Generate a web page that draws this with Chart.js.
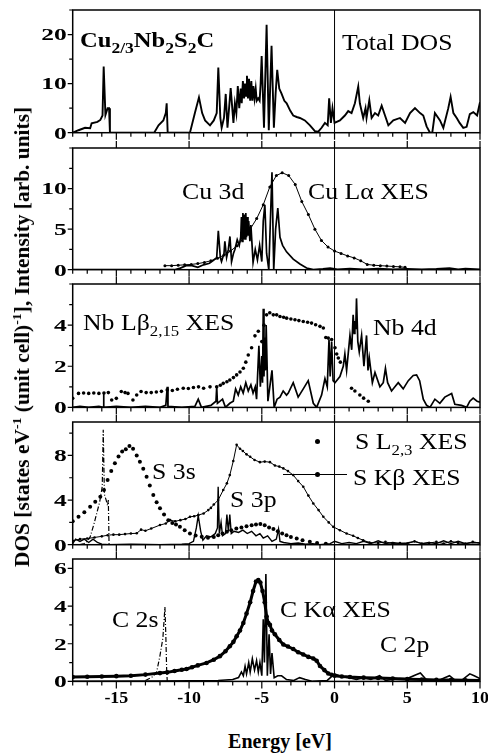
<!DOCTYPE html>
<html><head><meta charset="utf-8">
<script src="https://cdn.jsdelivr.net/npm/chart.js@4.4.0/dist/chart.umd.min.js"></script>
<style>
body{margin:0;background:#fff;width:488px;height:753px;overflow:hidden;position:relative;font-family:"Liberation Serif","Times New Roman",serif;}
canvas{position:absolute;left:0;}
.lab{position:absolute;white-space:nowrap;color:#000;font-size:23px;line-height:1;transform-origin:0 50%;transform:scaleX(1.12);}
.lab sub{font-size:15px;vertical-align:-6px;line-height:0;}
.b{font-weight:bold;}
.ylab{position:absolute;white-space:nowrap;font-weight:bold;font-size:20px;line-height:1;transform:translate(-50%,-50%) rotate(-90deg) scaleX(1.07);}
.ylab sup{font-size:13px;vertical-align:8px;line-height:0;}
.xlab{position:absolute;white-space:nowrap;font-weight:bold;font-size:20px;line-height:1;transform:translateX(-50%);}
.dot{position:absolute;width:5px;height:5px;border-radius:50%;background:#000;}
.hl{position:absolute;height:1.3px;background:#000;}
</style></head><body>
<canvas id="c1"></canvas><canvas id="c2"></canvas><canvas id="c3"></canvas><canvas id="c4"></canvas><canvas id="c5"></canvas>

<div class="lab b" style="left:80px;top:30px;font-size:21px;transform:scaleX(1.17)">Cu<sub>2/3</sub>Nb<sub>2</sub>S<sub>2</sub>C</div>
<div class="lab" style="left:342px;top:31px">Total DOS</div>
<div class="lab" style="left:182px;top:180px">Cu 3d</div>
<div class="lab" style="left:308px;top:180px">Cu Lα XES</div>
<div class="lab" style="left:83px;top:311px">Nb Lβ<sub>2,15</sub> XES</div>
<div class="lab" style="left:373px;top:316px">Nb 4d</div>
<div class="lab" style="left:355px;top:430px">S L<sub>2,3</sub> XES</div>
<div class="lab" style="left:353px;top:466px">S Kβ XES</div>
<div class="lab" style="left:152px;top:460px">S 3s</div>
<div class="lab" style="left:230px;top:488px">S 3p</div>
<div class="lab" style="left:112px;top:608px">C 2s</div>
<div class="lab" style="left:280px;top:598px">C Kα XES</div>
<div class="lab" style="left:380px;top:633px">C 2p</div>
<div class="dot" style="left:314.5px;top:438.5px"></div>
<div class="hl" style="left:283px;top:474px;width:64px"></div>
<div class="dot" style="left:314.5px;top:472px"></div>
<div class="ylab" style="left:22px;top:337px">DOS [states eV<sup>-1</sup> (unit cell)<sup>-1</sup>], Intensity [arb. units]</div>
<div class="xlab" style="left:280px;top:731px">Energy [eV]</div>

<script>
// ---------- axis settings ----------
const energyMin = -18, energyMax = 10;
const energyTicks = [-15, -10, -5, 0, 5, 10];

const p1Max = 25, p1Ticks = [0, 10, 20], p1Minor = 5;
const p2Max = 15, p2Ticks = [0, 5, 10], p2Minor = 2.5;
const p3Max = 6, p3Ticks = [0, 2, 4], p3Minor = 1;
const p4Max = 11, p4Ticks = [0, 4, 8], p4Minor = 2;
const p5Max = 6.5, p5Ticks = [0, 2, 4, 6], p5Minor = 1;

// ---------- data [energy eV, value] ----------
const totalDos = [[-18,0],[-17.6,0.5],[-17.15,1.0],[-16.8,0.9],[-16.7,1.9],[-16.3,2.2],[-16.1,2.6],[-15.95,3.5],[-15.87,13.5],[-15.75,3.6],[-15.6,5.0],[-15.5,5.0],[-15.44,0],
[-12.4,0],[-12.1,1.5],[-11.77,2.5],[-11.6,4],[-11.54,6.0],[-11.47,0],
[-9.94,0],[-9.6,4],[-9.32,7.2],[-9.1,4],[-8.9,2.5],[-8.56,1.5],[-8.3,2.5],[-8.1,4],[-7.99,13.3],[-7.85,3],[-7.76,1],[-7.6,3],[-7.48,7.9],[-7.36,1],[-7.25,5],[-7.14,9.1],[-6.95,2],[-6.85,6],[-6.75,4],[-6.65,9.5],[-6.55,5],[-6.45,9],[-6.38,6],[-6.3,10.5],[-6.22,7],[-6.15,10],[-6.08,7.5],[-6.02,11.6],[-5.95,7],[-5.88,11],[-5.8,6.5],[-5.72,10.5],[-5.65,6.5],[-5.58,9.5],[-5.5,7],[-5.42,9],[-5.35,6.5],[-5.25,7],[-5.15,6.5],[-5.08,10],[-5.01,15.6],[-4.85,1],[-4.67,22],[-4.52,0.5],[-4.33,17.7],[-4.17,1],[-4.05,8],[-3.94,12.8],[-3.8,9],[-3.65,8],[-3.45,6.5],[-3.29,6],[-3.05,4.5],[-2.84,3.5],[-2.6,3.2],[-2.38,3],[-2.04,2.5],[-1.69,1.5],[-1.35,0.3],[-1.12,0.2],[-0.89,1],[-0.66,2],[-0.47,1.5],[-0.37,7],[-0.25,2],[-0.14,5],[0,2],
[0.37,2.5],[0.71,3.5],[0.94,4.4],[1.17,4],[1.4,6],[1.63,9.4],[1.74,6],[1.97,3],[2.13,5],[2.2,3],[2.39,6.6],[2.55,3],[2.78,4],[3.0,3.5],[3.24,5.5],[3.47,3.5],[3.7,1.5],[4.04,2.5],[4.5,3],[4.85,2],[5.19,4],[5.53,5],[5.88,4],[6.1,3.5],[6.33,1.3],[6.56,0],[6.72,0],[6.9,4],[7.25,2.5],[7.48,1],[7.82,5],[7.98,7.3],[8.17,4],[8.4,3],[8.6,2],[8.85,1],[9.08,1.2],[9.3,3.8],[9.54,4.2],[9.8,3.5],[10,6.2]];

const cu3d = [[-18,0],[-11,0],[-10.6,0.2],[-10.2,0.5],[-9.8,0.5],[-9.4,0.3],[-9.0,0.6],[-8.6,0.8],[-8.3,1.2],[-8.1,1.5],[-7.99,4.8],[-7.85,1.5],[-7.77,1],[-7.6,2],[-7.54,3.5],[-7.42,1.5],[-7.3,2.5],[-7.19,4.1],[-7.08,1],[-6.95,2],[-6.85,2.5],[-6.69,3.7],[-6.55,3],[-6.45,4],[-6.4,6.5],[-6.35,3.5],[-6.3,7],[-6.25,4],[-6.2,6.8],[-6.15,3.8],[-6.1,7],[-6.05,4],[-6.0,6.5],[-5.95,4.2],[-5.9,6],[-5.82,3.5],[-5.75,5.5],[-5.6,0.9],[-5.45,2.5],[-5.3,1.2],[-5.15,3],[-5.0,1.0],[-4.9,6],[-4.79,8],[-4.67,2],[-4.52,0],[-4.3,12],[-4.18,0],[-4.05,5],[-3.9,7.6],[-3.75,4],[-3.57,3],[-3.3,2.2],[-2.84,1.3],[-2.38,0.7],[-1.92,0.2],[-1.46,0],[-0.8,0.1],[-0.3,0.2],[0.2,0.05],[1.05,0.15],[2,0.05],[3,0.15],[4,0.05],[5,0.1],[6,0.05],[7,0.1],[7.9,0.2],[8.5,0.05],[9,0.15],[10,0.05]];

const cuLaXes = [[-11.66,0.5],[-11.2,0.5],[-10.75,0.55],[-10.3,0.6],[-9.85,0.65],[-9.4,0.75],[-8.95,0.9],[-8.5,1.1],[-8.05,1.4],[-7.6,1.8],[-7.15,2.3],[-6.7,2.95],[-6.25,3.9],[-5.8,5.0],[-5.35,6.3],[-4.9,8.0],[-4.45,10.2],[-4.0,11.6],[-3.6,11.95],[-3.15,11.6],[-2.7,10.5],[-2.25,8.4],[-1.8,6.8],[-1.35,5.0],[-0.9,3.6],[-0.45,2.8],[0.0,2.3],[0.45,2.0],[0.9,1.7],[1.35,1.45],[1.8,1.1],[2.25,0.65],[2.7,0.55],[3.15,0.5],[3.6,0.45],[4.05,0.4],[4.5,0.35],[4.85,0.3]];

const nbLbXes = [[-18,0.44],[-17.6,0.68],[-17.25,0.7],[-16.9,0.68],[-16.55,0.7],[-16.2,0.68],[-15.85,0.7],[-15.55,0.72],[-15.32,0.36],[-15.0,0.44],[-14.66,0.77],[-14.4,0.72],[-14.2,0.68],[-13.86,0.36],[-13.6,0.6],[-13.3,0.77],[-12.95,0.72],[-12.6,0.72],[-12.25,0.75],[-11.9,0.78],[-11.5,0.85],[-11.15,0.82],[-10.8,0.88],[-10.4,0.93],[-10.05,0.92],[-9.7,0.97],[-9.35,1.0],[-9.0,0.93],[-8.56,1.0],[-8.1,1.0],[-7.85,1.08],[-7.65,1.17],[-7.4,1.25],[-7.2,1.33],[-6.95,1.45],[-6.73,1.58],[-6.5,1.72],[-6.27,1.9],[-6.1,2.2],[-5.93,2.55],[-5.7,2.9],[-5.47,3.48],[-5.24,3.7],[-5.0,3.2],[-4.85,4.0],[-4.67,4.5],[-4.45,4.6],[-4.21,4.5],[-3.98,4.5],[-3.75,4.42],[-3.5,4.38],[-3.29,4.34],[-3.0,4.3],[-2.72,4.26],[-2.45,4.22],[-2.15,4.18],[-1.85,4.14],[-1.58,4.1],[-1.3,4.02],[-1.0,3.94],[-0.77,3.86],[-0.6,3.4],[-0.43,3.37],[-0.2,3.3],[0.03,2.9],[0.15,2.6],[0.26,2.4],[0.4,2.2],[1.17,0.93],[1.4,0.8],[1.74,0.6],[2.0,0.45],[2.32,0.3]];

const nb4d = [[-18,0],[-17.5,0.05],[-16.9,0],[-16.2,0.05],[-15.9,0],[-15.88,0.7],[-15.85,0],[-15,0.05],[-14,0],[-13,0.05],[-12,0],[-11.6,0.1],[-11.5,1.0],[-11.45,0.05],[-10.5,0],[-9.6,0.05],[-9.37,0.4],[-9.15,0],[-8.5,0.1],[-8.15,0.3],[-8.1,1.0],[-8.05,0.2],[-7.7,0.4],[-7.5,0],[-7.2,0.2],[-6.96,0.3],[-6.8,0.9],[-6.62,0.6],[-6.45,1.0],[-6.28,0.7],[-6.1,1.2],[-5.93,0.8],[-5.75,1.1],[-5.6,0.7],[-5.45,1.0],[-5.36,0.4],[-5.2,3.0],[-5.1,1.0],[-5.0,2.5],[-4.95,1.2],[-4.9,4.8],[-4.85,1.5],[-4.8,3.4],[-4.75,1.8],[-4.7,4.0],[-4.58,0.3],[-4.45,1.0],[-4.3,1.8],[-4.15,0],[-3.95,0.4],[-3.75,0.5],[-3.53,0.8],[-3.3,0.6],[-3.18,0.7],[-2.84,1.2],[-2.5,0.5],[-2.15,0.9],[-1.81,1.3],[-1.46,0.2],[-1.23,0],[-0.89,0.6],[-0.66,1.4],[-0.5,1.0],[-0.38,3.3],[-0.3,1.5],[-0.2,3.2],[-0.1,1.3],[0.03,1.2],[0.37,1.5],[0.6,2.0],[0.71,2.6],[0.83,1.8],[1.06,3.5],[1.18,2.8],[1.28,4.5],[1.35,3.6],[1.4,4.2],[1.46,3.8],[1.51,5.3],[1.6,3.2],[1.7,2.7],[1.86,3.5],[2.02,2.0],[2.2,3.5],[2.3,1.8],[2.39,2.4],[2.6,1.2],[2.78,1.7],[3.12,1.0],[3.35,1.2],[3.5,1.9],[3.65,1.2],[3.92,0.8],[4.15,1.0],[4.38,1.2],[4.72,0.9],[5.07,1.3],[5.41,1.55],[5.64,1.58],[5.85,1.3],[6.1,0.4],[6.33,0.1],[6.56,0],[6.9,0.4],[7.24,0.2],[7.58,0.5],[8.05,0.68],[8.27,0.15],[8.73,0.1],[9.08,0],[9.3,0.3],[9.53,0.45],[9.8,0.3],[10,0.25]];

const sL23Xes = [[-18,2.1],[-17.6,2.5],[-17.2,2.9],[-16.8,3.4],[-16.45,3.85],[-16.1,4.3],[-15.85,4.9],[-15.6,5.8],[-15.35,6.6],[-15.1,7.3],[-14.85,7.9],[-14.6,8.35],[-14.35,8.55],[-14.1,8.85],[-13.85,8.6],[-13.6,8.0],[-13.38,7.43],[-13.15,6.8],[-12.92,6.1],[-12.7,5.3],[-12.46,4.45],[-12.23,3.8],[-12.0,3.26],[-11.72,2.7],[-11.43,2.2],[-11.15,1.95],[-10.9,1.8],[-10.63,1.6],[-10.3,1.3],[-9.94,1.0],[-9.55,0.82],[-9.13,0.72],[-8.7,0.62],[-8.3,0.7],[-8.0,0.85],[-7.7,1.0],[-7.4,1.15],[-7.1,1.3],[-6.75,1.45],[-6.4,1.55],[-6.05,1.65],[-5.7,1.75],[-5.4,1.8],[-5.1,1.85],[-4.8,1.75],[-4.5,1.55],[-4.2,1.4],[-3.9,1.2],[-3.6,1.0],[-3.3,0.85],[-3.0,0.7],[-2.6,0.55],[-2.2,0.4],[-1.7,0.27],[-1.2,0.15],[-0.6,0.08]];

const sKbXes = [[-18,0.35],[-17.5,0.5],[-17.0,0.55],[-16.5,0.65],[-16.0,0.75],[-15.6,0.85],[-15.2,0.9],[-14.8,0.9],[-14.4,0.95],[-14.0,1.0],[-13.6,1.02],[-13.3,1.35],[-13.0,1.25],[-12.6,1.45],[-12.0,1.76],[-11.6,1.9],[-11.3,2.2],[-10.95,2.1],[-10.6,2.2],[-10.25,2.3],[-9.94,2.5],[-9.65,2.55],[-9.37,2.65],[-9.0,2.8],[-8.68,3.1],[-8.5,3.3],[-8.3,3.6],[-8.0,4.0],[-7.65,4.9],[-7.4,5.5],[-7.2,6.24],[-6.96,7.5],[-6.73,8.95],[-6.5,8.6],[-6.3,8.4],[-6.05,8.1],[-5.8,7.88],[-5.5,7.6],[-5.13,7.4],[-4.8,7.45],[-4.44,7.4],[-4.1,7.1],[-3.8,7.0],[-3.52,6.84],[-3.2,6.6],[-2.84,6.24],[-2.5,5.7],[-2.15,5.2],[-1.8,4.4],[-1.46,3.7],[-1.1,3.1],[-0.77,2.5],[-0.4,2.0],[-0.09,1.6],[0.37,1.3],[0.83,1.0],[1.28,0.8],[1.6,0.6],[1.97,0.4],[2.4,0.2],[3,0.15],[3.5,0.25],[4,0.1],[4.5,0.15],[5,0.1],[5.5,0.3],[6,0.1],[6.5,0.15],[7,0.25],[7.5,0.1],[8,0.3],[8.5,0.15],[9,0.1],[9.5,0.25],[10,0.15]];

const s3s = [[-17.5,0],[-17.2,0.1],[-17.0,0.3],[-16.8,0.7],[-16.55,1.8],[-16.35,2.8],[-16.15,3.8],[-15.97,5.2],[-15.9,10.3],[-15.82,4.5],[-15.7,4.0],[-15.6,3.5],[-15.55,4.0],[-15.5,0],[-15.2,0]];

const s3p = [[-18,0.1],[-17.8,0.5],[-17.5,0.3],[-17.2,0.5],[-16.9,0.2],[-16.6,0.5],[-16.3,0.2],[-16,0.05],[-15.5,0],[-14,0.05],[-12,0],[-10.5,0.05],[-10,0.1],[-9.7,0.3],[-9.5,1.5],[-9.37,2.6],[-9.2,1.2],[-9.05,0.4],[-8.8,0.8],[-8.5,0.7],[-8.2,1.0],[-8.05,1.5],[-8.0,5.2],[-7.92,1.0],[-7.8,2.0],[-7.7,0.8],[-7.5,1.0],[-7.4,2.7],[-7.3,1.2],[-7.2,2.7],[-7.1,1.0],[-6.9,1.2],[-6.6,1.1],[-6.3,1.3],[-6.0,1.0],[-5.7,1.2],[-5.4,0.8],[-5.13,1.0],[-4.9,0.6],[-4.6,0.8],[-4.3,0.3],[-4.0,0.5],[-3.85,1.4],[-3.75,0.3],[-3.5,0.2],[-3.0,0.1],[-2.5,0.15],[-2,0.05],[-1.5,0.1],[-1,0],[-0.3,0.1],[0,0.3],[0.5,0.1],[1,0.2],[1.5,0.1],[2,0.3],[2.5,0.1],[3,0.35],[3.5,0.1],[4,0.2],[4.5,0.1],[5,0.15],[5.5,0.3],[6,0.1],[6.5,0.2],[7,0.1],[7.5,0.35],[8,0.1],[8.5,0.3],[9,0.1],[9.5,0.2],[10,0.15]];

const cKaXes = [[-18,0.23],[-17,0.25],[-16,0.26],[-15,0.28],[-14,0.3],[-13,0.36],[-12,0.44],[-11.5,0.48],[-11,0.55],[-10.5,0.62],[-10.17,0.66],[-9.8,0.75],[-9.4,0.85],[-8.8,0.98],[-8.3,1.15],[-7.88,1.34],[-7.5,1.6],[-7.2,1.87],[-6.95,2.1],[-6.73,2.4],[-6.5,2.7],[-6.27,3.1],[-6.05,3.6],[-5.8,4.2],[-5.6,4.8],[-5.4,5.3],[-5.24,5.38],[-5.1,5.25],[-4.95,4.8],[-4.8,4.2],[-4.67,3.45],[-4.55,3.1],[-4.44,3.0],[-4.3,2.7],[-4.1,2.5],[-3.8,2.2],[-3.52,1.96],[-3.2,1.85],[-2.84,1.72],[-2.5,1.55],[-2.15,1.43],[-1.8,1.3],[-1.46,1.22],[-1.23,1.1],[-1.0,0.82],[-0.7,0.6],[-0.43,0.42],[-0.2,0.35],[0,0.3],[0.5,0.26],[1.06,0.23],[2,0.2],[3,0.18],[4,0.15],[5,0.12],[6,0.1],[7,0.08],[8,0.07],[9,0.06],[10,0.05]];

const c2s = [[-13,0.05],[-12.5,0.25],[-12.23,0.5],[-12.0,1.37],[-11.8,2.3],[-11.66,3.95],[-11.6,2.5],[-11.54,0.6],[-11.5,0]];

const c2p = [[-18,0],[-12,0.02],[-8,0.05],[-7,0.1],[-6.6,0.2],[-6.4,0.5],[-6.27,0.3],[-6.15,0.8],[-6.05,0.4],[-5.9,1.0],[-5.8,0.5],[-5.65,1.2],[-5.5,0.6],[-5.36,1.1],[-5.24,0.5],[-5.13,1.0],[-5.0,0.3],[-4.9,3.3],[-4.82,1.0],[-4.72,5.7],[-4.62,0.3],[-4.5,2.5],[-4.4,0.4],[-4.3,1.5],[-4.15,0.2],[-3.9,0.3],[-3.64,0.3],[-3.3,0.1],[-2.8,0.05],[-2.4,0.2],[-2.0,0.1],[-1.5,0],[-0.5,0.05],[0,0.4],[0.5,0.25],[1,0.2],[1.5,0.1],[2,0.2],[2.5,0.1],[3.1,0.3],[3.5,0.05],[4,0.1],[4.5,0.15],[5,0.15],[5.6,0.35],[5.9,0.45],[6.3,0.1],[6.8,0],[7.3,0.1],[7.9,0.3],[8.3,0.05],[8.8,0.1],[9.3,0.4],[9.6,0.3],[10,0.15]];

// ---------- helpers ----------
const FONT = "'Liberation Serif','Times New Roman',serif";
const pts = a => a.map(p => ({x: p[0], y: p[1]}));
const solid = (d, w) => ({data: pts(d), borderColor: '#000', borderWidth: w || 1.5, pointRadius: 0, tension: 0, fill: false});
const dashdot = d => ({data: pts(d), borderColor: '#000', borderWidth: 1.2, borderDash: [5, 2, 1, 2], pointRadius: 0, tension: 0});
const dots = (d, r) => ({data: pts(d), showLine: false, pointRadius: r, pointBackgroundColor: '#000', pointBorderWidth: 0});
const lineDots = (d, w, r) => ({data: pts(d), borderColor: '#000', borderWidth: w, pointRadius: r, pointBackgroundColor: '#000', pointBorderWidth: 0, tension: 0});

const framePlugin = {
  id: 'frame',
  afterDatasetsDraw(chart) {
    const o = chart.options.plugins.frame;
    const {ctx, chartArea: a, scales: {x, y}} = chart;
    ctx.save();
    ctx.strokeStyle = '#000';
    ctx.fillStyle = '#000';
    ctx.lineWidth = 1;
    const x0 = x.getPixelForValue(0);
    ctx.beginPath(); ctx.moveTo(x0, a.top); ctx.lineTo(x0, a.bottom); ctx.stroke();
    ctx.lineWidth = 1.2;
    ctx.beginPath();
    for (let v = energyMin; v <= energyMax; v += 1) {
      const px = x.getPixelForValue(v);
      const major = energyTicks.includes(v);
      ctx.moveTo(px, a.bottom); ctx.lineTo(px, a.bottom + (major ? 7 : 4));
      if (major && o.topTicks) { ctx.moveTo(px, a.top); ctx.lineTo(px, a.top - 7); }
    }
    for (let v = 0; v <= o.ymax + 1e-9; v += o.minor) {
      const py = y.getPixelForValue(v);
      const major = o.yTicks.includes(v);
      ctx.moveTo(a.left, py); ctx.lineTo(a.left - (major ? 5 : 3.5), py);
    }
    ctx.stroke();
    ctx.lineWidth = 1.5;
    ctx.strokeRect(a.left, a.top, a.width, a.height);
    // tick labels
    ctx.font = 'bold 17px ' + FONT;
    ctx.textAlign = 'right'; ctx.textBaseline = 'alphabetic';
    for (const v of o.yTicks) {
      const py = y.getPixelForValue(v);
      ctx.save(); ctx.translate(a.left - 6, py + 5.8); ctx.scale(1.5, 1);
      ctx.fillText(String(v), 0, 0); ctx.restore();
    }
    if (o.xLabels) {
      ctx.font = 'bold 16px ' + FONT;
      ctx.textAlign = 'center';
      for (const v of energyTicks) {
        const px = x.getPixelForValue(v);
        ctx.save(); ctx.translate(px, a.bottom + 21.5); ctx.scale(1.12, 1);
        ctx.fillText(String(v), 0, 0); ctx.restore();
      }
    }
    ctx.restore();
  }
};

function panel(id, top, bottom, canvasBottom, ymax, yTicks, minor, datasets, xLabels, topTicks) {
  const cv = document.getElementById(id);
  const ctop = top - 10;
  const h = Math.round(canvasBottom - ctop);
  cv.width = 488; cv.height = h;
  cv.style.top = ctop + 'px';
  cv.style.width = '488px'; cv.style.height = h + 'px';
  new Chart(cv, {
    type: 'line',
    data: {datasets},
    options: {
      responsive: false, animation: false, devicePixelRatio: 1,
      events: [],
      layout: {padding: {top: 10, right: 8, left: 72.7, bottom: h - 10 - (bottom - top)}},
      plugins: {legend: {display: false}, tooltip: {enabled: false},
                frame: {ymax, yTicks, minor, topTicks, xLabels}},
      scales: {
        x: {type: 'linear', min: energyMin, max: energyMax, display: false},
        y: {type: 'linear', min: 0, max: ymax, display: false}
      }
    },
    plugins: [framePlugin]
  });
}

panel('c1', 10, 132.7, 142.7, p1Max, p1Ticks, p1Minor, [solid(totalDos, 1.9)], false, false);
panel('c2', 148.3, 270, 280, p2Max, p2Ticks, p2Minor, [solid(cu3d, 1.7), lineDots(cuLaXes, 1, 1.5)], false, true);
panel('c3', 284.3, 407.7, 417.7, p3Max, p3Ticks, p3Minor, [solid(nb4d, 1.7), dots(nbLbXes, 1.8)], false, true);
panel('c4', 422, 544.7, 554.7, p4Max, p4Ticks, p4Minor,
      [dots(sL23Xes, 2), lineDots(sKbXes, 1, 1.3), dashdot(s3s), solid(s3p, 1.4)], false, true);
panel('c5', 559.3, 681.7, 712, p5Max, p5Ticks, p5Minor,
      [lineDots(cKaXes, 3, 2.3), dashdot(c2s), solid(c2p, 1.6)], true, true);
</script>
</body></html>
